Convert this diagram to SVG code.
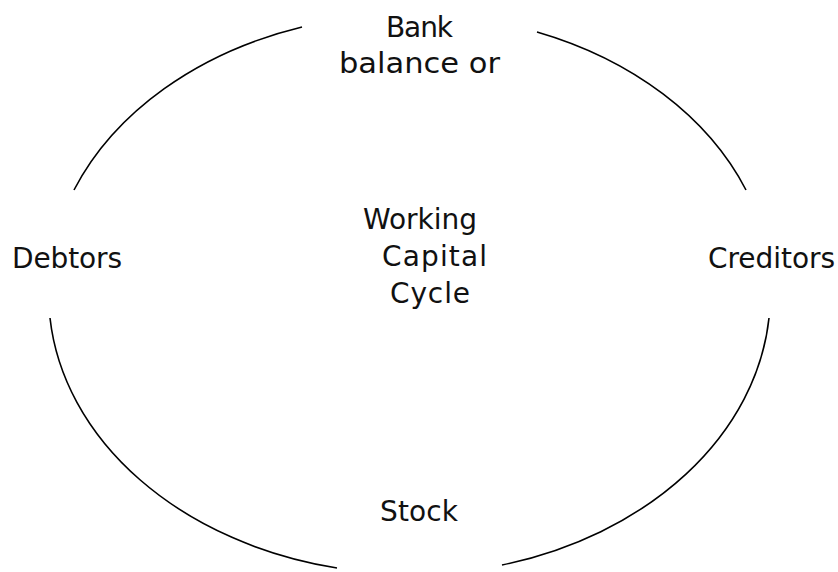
<svg xmlns="http://www.w3.org/2000/svg" width="838" height="572" viewBox="0 0 838 572">
<style>
.arc{fill:none;stroke:#000;stroke-width:1.6}
.t{font-family:"DejaVu Sans","Liberation Sans",sans-serif;font-size:28px;fill:#111}
</style>
<rect width="838" height="572" fill="#fff"/>
<g id="connectors">
<path class="arc" d="M302,27 A362,280 0 0 0 74,190"/>
<path class="arc" d="M537,32 A362,280 0 0 1 746,190"/>
<path class="arc" d="M50,318 A362,280 0 0 0 337,568"/>
<path class="arc" d="M769,318 A362,280 0 0 1 502,565"/>
</g>
<g id="bank"><text class="t" x="386" y="37" textLength="67">Bank</text><text class="t" x="339" y="73" textLength="161" lengthAdjust="spacingAndGlyphs">balance or</text></g>
<g id="debtors"><text class="t" x="12" y="268" textLength="110">Debtors</text></g>
<g id="creditors"><text class="t" x="708" y="268" textLength="127">Creditors</text></g>
<g id="center"><text class="t" x="363" y="229" textLength="114">Working</text><text class="t" x="382" y="266" textLength="105">Capital</text><text class="t" x="390" y="303" textLength="80">Cycle</text></g>
<g id="stock"><text class="t" x="380" y="521" textLength="78">Stock</text></g>
</svg>
